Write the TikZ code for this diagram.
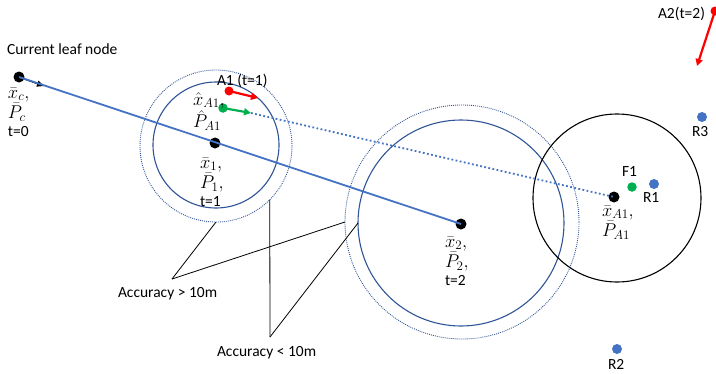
\RequirePackage{fix-cm}
\documentclass[tikz,border=0pt]{standalone}
\usepackage{fontspec}
\setmainfont{Carlito}
\DeclareMathSizes{15.5}{18.5}{13}{10}
\usetikzlibrary{arrows.meta}
\definecolor{obl}{HTML}{4472C4}
\definecolor{dbl}{HTML}{2F5597}
\definecolor{ored}{HTML}{FF0000}
\definecolor{ogr}{HTML}{00B050}
\newcommand{\mybig}{\fontsize{15.5}{18}\selectfont}
\begin{document}
\begin{tikzpicture}[x=1pt,y=-1pt,
  every node/.style={font=\mybig, inner sep=0pt, outer sep=0pt},
  lbl/.style={anchor=base west},
  pdot/.style={circle, minimum size=#1, inner sep=0pt, outer sep=0pt},
  blackdot/.style={pdot=11pt, fill=black},
  bluedot/.style={pdot=10pt, fill=obl},
  reddot/.style={pdot=9pt, fill=ored},
  greendot/.style={pdot=9.5pt, fill=ogr},
  ring/.style={circle, minimum size=#1, inner sep=0pt, outer sep=0pt, draw},
  solidring/.style={ring=#1, draw=dbl, line width=1.1pt},
  dotring/.style={ring=#1, draw=dbl, line width=0.9pt, dash pattern=on 0.9pt off 1.1pt},
  mainline/.style={draw=obl, line width=1.8pt},
  dotline/.style={draw=obl, line width=1.8pt, dash pattern=on 1.8pt off 2.4pt},
  redarrow/.style={draw=ored, line width=2.2pt, -{Triangle[length=7pt,width=7pt]}},
  greenarrow/.style={draw=ogr, line width=2.2pt, -{Triangle[length=7pt,width=7pt]}},
  blackarrow/.style={draw=black, line width=1.4pt, -{Triangle[length=7pt,width=6pt]}},
  annot/.style={draw=black, line width=0.8pt}
]
\useasboundingbox (0,0) rectangle (716,373);

% circles
\node[solidring=126pt] (c1in) at (216,145) {};
\node[dotring=152pt] (c1out) at (216,146) {};
\node[solidring=206pt] (c2in) at (461,223) {};
\node[dotring=234pt] (c2out) at (462,222) {};
\node[ring=168pt, draw=black, line width=1.1pt] (cbig) at (617,198) {};

% dots
\node[blackdot] (xc) at (19,77) {};
\node[blackdot] (x1) at (215,143) {};
\node[blackdot] (x2) at (461,224) {};
\node[blackdot] (xa1) at (614,197) {};
\node[greendot] (f1) at (632,187) {};
\node[bluedot] (r1) at (654,184) {};
\node[bluedot] (r2) at (617,349) {};
\node[bluedot] (r3) at (702,117) {};
\node[reddot] (a1r) at (229,91) {};
\node[greendot] (a1g) at (223,108) {};
\node[reddot] (a2r) at (715,11) {};

% arrow ends
\coordinate (xct) at (44,86);
\coordinate (a1rt) at (258,98);
\coordinate (a1gt) at (251,113);
\coordinate (a2rt) at (697,66);

% connectors
\draw[blackarrow] (xc.center) -- (xct);
\draw[mainline] (xc.center) -- (x2.center);
\draw[redarrow] (a1r.center) -- (a1rt);
\draw[greenarrow] (a1g.center) -- (a1gt);
\draw[dotline] (a1gt) -- (xa1.center);
\draw[redarrow] (a2r.center) -- (a2rt);

% annotation lines
\coordinate (acc1) at (172,279);
\coordinate (acc2) at (270,337);
\draw[annot] (acc1) -- (c1out.270);
\draw[annot] (acc1) -- (c2out.180);
\draw[annot] (acc2) -- (c1out.-45);
\draw[annot] (acc2) -- (c2in.180);

% labels
\node[lbl] (tleaf) at (7,54) {Current leaf node};
\node[lbl] (txc) at (8,98) {\begin{tabular}[t]{@{}l@{}}$\bar{x}_c,$\\$\bar{P}_c$\\t=0\end{tabular}};
\node[lbl] (ta1) at (217,85) {A1 (t=1)};
\node[lbl] (txh) at (193,105) {\begin{tabular}[t]{@{}l@{}}$\hat{x}_{A1},$\\$\hat{P}_{A1}$\end{tabular}};
\node[lbl] (tx1) at (200,168) {\begin{tabular}[t]{@{}l@{}}$\bar{x}_1,$\\$\bar{P}_1,$\\t=1\end{tabular}};
\node[lbl] (tx2) at (445,247) {\begin{tabular}[t]{@{}l@{}}$\bar{x}_2,$\\$\bar{P}_2,$\\t=2\end{tabular}};
\node[lbl] (txa1) at (602,216) {\begin{tabular}[t]{@{}l@{}}$\bar{x}_{A1},$\\$\bar{P}_{A1}$\end{tabular}};
\node[lbl] (tf1) at (622,176) {F1};
\node[lbl] (tr1) at (643,202) {R1};
\node[lbl] (tr3) at (692,136) {R3};
\node[lbl] (tr2) at (608,369) {R2};
\node[lbl] (ta2) at (658,18) {A2(t=2)};
\node[lbl] (tacc1) at (118,297) {Accuracy > 10m};
\node[lbl] (tacc2) at (217,356) {Accuracy < 10m};
\end{tikzpicture}
\end{document}
